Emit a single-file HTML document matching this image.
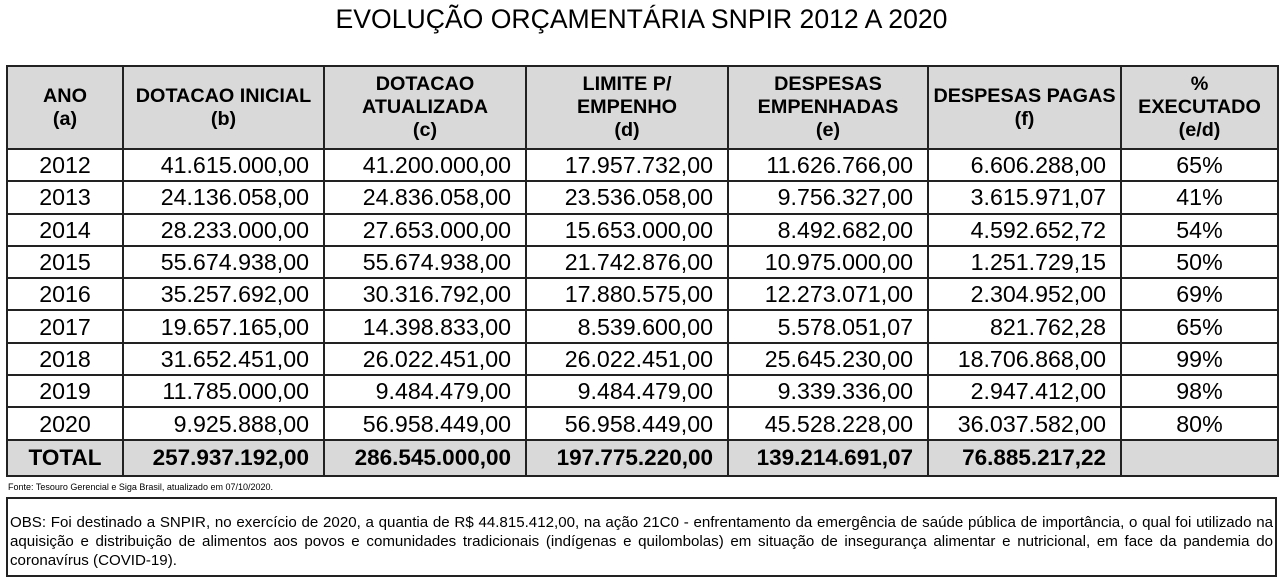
<!DOCTYPE html>
<html><head><meta charset="utf-8"><style>
body{margin:0;width:1283px;height:581px;background:#fff;font-family:"Liberation Sans",Arial,sans-serif;position:relative;overflow:hidden;color:#000}
.title{position:absolute;top:4px;left:0;width:1283px;text-align:center;font-size:26.6px}
table{position:absolute;left:6px;top:65px;border-collapse:collapse;table-layout:fixed}
td,th{border:2px solid #222;padding:0}
th{background:#d9d9d9;font-size:19.8px;font-weight:bold;line-height:23px;height:81px;text-align:center}
td{font-size:23.2px;height:30.3px;line-height:30px;text-align:right;padding-right:14px}
td.c{text-align:center;padding-right:0}
tr.tot td{background:#d9d9d9;font-weight:bold;font-size:22.5px;height:34px}
.fonte{position:absolute;left:8px;top:482px;font-size:9px}
.obs{position:absolute;left:6px;top:497px;height:80px;border:2px solid #222;font-size:15.1px;line-height:19px;padding:14px 2px 0 2px;box-sizing:border-box;text-align:justify;width:1271px}
</style></head><body>
<div class="title">EVOLUÇÃO ORÇAMENTÁRIA SNPIR 2012 A 2020</div>
<table>
<colgroup><col style="width:116px"><col style="width:201px"><col style="width:202px"><col style="width:202px"><col style="width:200px"><col style="width:193px"><col style="width:157px"></colgroup>
<tr><th>ANO<br>(a)</th><th>DOTACAO INICIAL<br>(b)</th><th>DOTACAO<br>ATUALIZADA<br>(c)</th><th>LIMITE P/<br>EMPENHO<br>(d)</th><th>DESPESAS<br>EMPENHADAS<br>(e)</th><th>DESPESAS PAGAS<br>(f)</th><th>%<br>EXECUTADO<br>(e/d)</th></tr>
<tr><td class="c">2012</td><td>41.615.000,00</td><td>41.200.000,00</td><td>17.957.732,00</td><td>11.626.766,00</td><td>6.606.288,00</td><td class="c">65%</td></tr>
<tr><td class="c">2013</td><td>24.136.058,00</td><td>24.836.058,00</td><td>23.536.058,00</td><td>9.756.327,00</td><td>3.615.971,07</td><td class="c">41%</td></tr>
<tr><td class="c">2014</td><td>28.233.000,00</td><td>27.653.000,00</td><td>15.653.000,00</td><td>8.492.682,00</td><td>4.592.652,72</td><td class="c">54%</td></tr>
<tr><td class="c">2015</td><td>55.674.938,00</td><td>55.674.938,00</td><td>21.742.876,00</td><td>10.975.000,00</td><td>1.251.729,15</td><td class="c">50%</td></tr>
<tr><td class="c">2016</td><td>35.257.692,00</td><td>30.316.792,00</td><td>17.880.575,00</td><td>12.273.071,00</td><td>2.304.952,00</td><td class="c">69%</td></tr>
<tr><td class="c">2017</td><td>19.657.165,00</td><td>14.398.833,00</td><td>8.539.600,00</td><td>5.578.051,07</td><td>821.762,28</td><td class="c">65%</td></tr>
<tr><td class="c">2018</td><td>31.652.451,00</td><td>26.022.451,00</td><td>26.022.451,00</td><td>25.645.230,00</td><td>18.706.868,00</td><td class="c">99%</td></tr>
<tr><td class="c">2019</td><td>11.785.000,00</td><td>9.484.479,00</td><td>9.484.479,00</td><td>9.339.336,00</td><td>2.947.412,00</td><td class="c">98%</td></tr>
<tr><td class="c">2020</td><td>9.925.888,00</td><td>56.958.449,00</td><td>56.958.449,00</td><td>45.528.228,00</td><td>36.037.582,00</td><td class="c">80%</td></tr>
<tr class="tot"><td class="c">TOTAL</td><td>257.937.192,00</td><td>286.545.000,00</td><td>197.775.220,00</td><td>139.214.691,07</td><td>76.885.217,22</td><td></td></tr>
</table>
<div class="fonte">Fonte: Tesouro Gerencial e Siga Brasil, atualizado em 07/10/2020.</div>
<div class="obs">OBS: Foi destinado a SNPIR, no exercício de 2020, a quantia de R$ 44.815.412,00, na ação 21C0 - enfrentamento da emergência de saúde pública de importância, o qual foi utilizado na aquisição e distribuição de alimentos aos povos e comunidades tradicionais (indígenas e quilombolas) em situação de insegurança alimentar e nutricional, em face da pandemia do coronavírus (COVID-19).</div>
</body></html>
